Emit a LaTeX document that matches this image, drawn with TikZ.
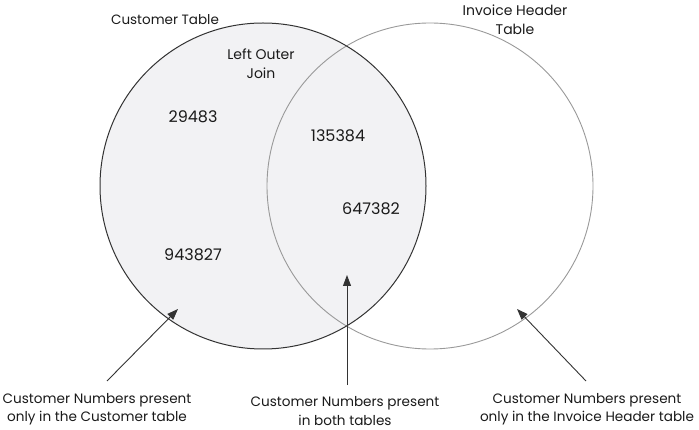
\documentclass[tikz,border=0pt]{standalone}
\usepackage{fontspec}
\setmainfont{Poppins}
\usetikzlibrary{arrows.meta}
\definecolor{fillgray}{HTML}{F2F2F4}
\definecolor{darkline}{HTML}{333333}
\definecolor{lightline}{HTML}{999999}
\definecolor{txt}{HTML}{1A1A1A}
\begin{document}
\begin{tikzpicture}[x=1pt,y=-1pt,
  lbl/.style={font=\fontsize{14}{19}\selectfont, align=center, inner sep=0pt, text=txt},
  bot/.style={lbl, font=\fontsize{13.6}{18.5}\selectfont},
  num/.style={font=\fontsize{16}{19}\selectfont, inner sep=0pt, text=txt},
  ptr/.style={draw=darkline, line width=0.9pt, -{Triangle[length=11pt,width=8pt]}}]
\useasboundingbox (0,0) rectangle (699,430);
% circles
\coordinate (cl) at (263,186);
\coordinate (cr) at (430,186);
\fill[fillgray] (cl) circle (163pt);
\draw[lightline, line width=0.9pt] (cr) circle (163pt);
\draw[darkline, line width=1pt] (cl) circle (163pt);
% labels
\node[lbl, font=\fontsize{13.5}{19}\selectfont] (tcust) at (165,20) {Customer Table};
\node[lbl] (tinv) at (515,20) {Invoice Header\\Table};
\node[lbl] (tjoin) at (261,64) {Left Outer\\Join};
\node[num] (n1) at (193,117) {29483};
\node[num] (n2) at (338,136) {135384};
\node[num] (n3) at (371,209) {647382};
\node[num] (n4) at (193,255) {943827};
\node[bot] (bl) at (97,409) {Customer Numbers present\\only in the Customer table};
\node[bot] (bm) at (345,411) {Customer Numbers present\\in both tables};
\node[bot] (br) at (587,409) {Customer Numbers present\\only in the Invoice Header table};
% arrows
\coordinate (tl) at (107,381);
\coordinate (hl) at (178,309);
\coordinate (tm) at (347,385);
\coordinate (hm) at (347,275);
\coordinate (tr) at (586,381);
\coordinate (hr) at (517,309);
\draw[ptr] (tl) -- (hl);
\draw[ptr] (tm) -- (hm);
\draw[ptr] (tr) -- (hr);
\end{tikzpicture}
\end{document}
